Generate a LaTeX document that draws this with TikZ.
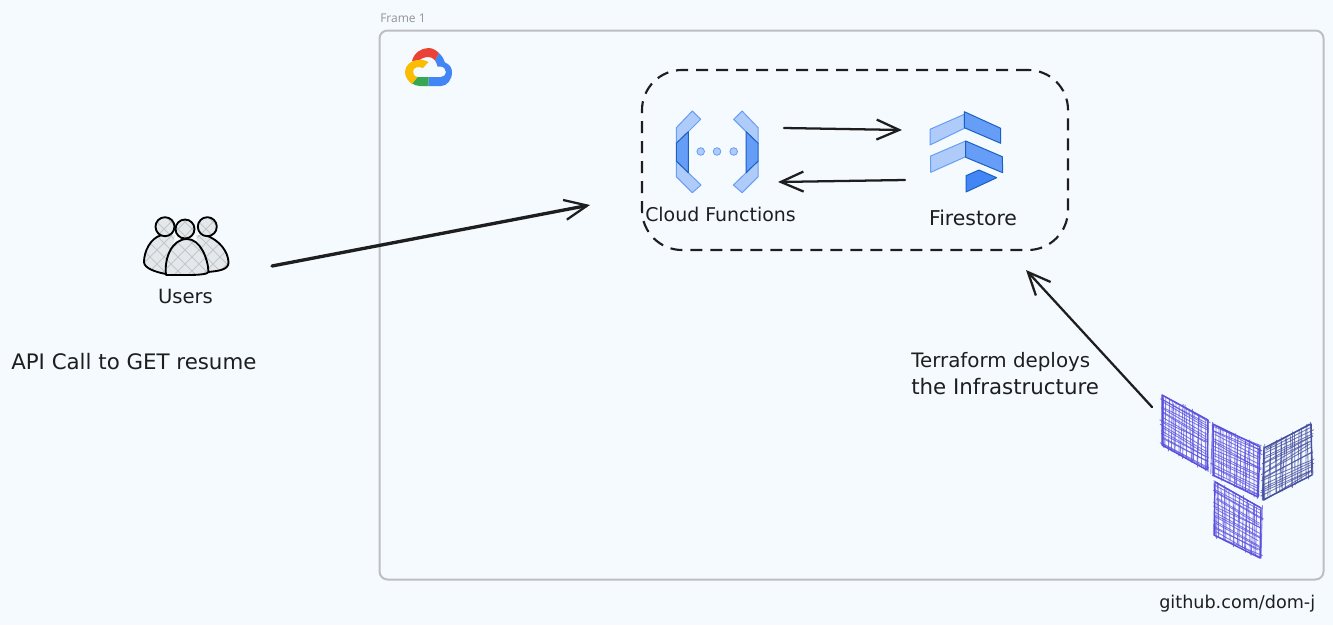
\documentclass[tikz,border=0pt]{standalone}
\usepackage{fontspec}
\setmainfont{DejaVu Sans}
\newfontfamily\framefont{Open Sans}
\usetikzlibrary{arrows.meta,calc}
\definecolor{bgc}{HTML}{F5FAFF}
\definecolor{ink}{HTML}{1E1E1E}
\definecolor{gline}{HTML}{BDBFC1}
\definecolor{lblue}{HTML}{AECBFA}
\definecolor{mblue}{HTML}{669DF6}
\definecolor{dblue}{HTML}{4285F4}
\definecolor{eblue}{HTML}{1A62C0}
\definecolor{tfv}{HTML}{5A50DC}
\definecolor{tfd}{HTML}{45509E}
\definecolor{gred}{HTML}{EA4335}
\definecolor{gyel}{HTML}{FBBC04}
\definecolor{ggrn}{HTML}{34A853}
\definecolor{gblu}{HTML}{4285F4}
\tikzset{
 flow/.style={draw=ink,line width=1.7pt,-{Straight Barb[length=17pt,width=15pt,line width=1.7pt]},line cap=round},
 hand/.style={text=ink,inner sep=0pt},
 lightpart/.style={fill=lblue,draw=mblue,line width=0.75pt,line join=round},
 darkpart/.style={fill=mblue,draw=eblue,line width=0.75pt,line join=round},
 person/.style={draw=black,line width=1.4pt,line join=round},
 tfline/.style={line width=0.65pt,line cap=round,opacity=0.75},
}
\newcommand{\hs}[1]{\fontsize{#1pt}{#1pt}\selectfont}
\newcommand{\hatchusers}{%
  \fill[bgc!85!gray] (130,205) rectangle (240,285);
  \foreach \k in {-100,-86,...,200}{
    \draw[gray!45,line width=0.6pt] (\k+100,205) -- ++(80,80);
    \draw[gray!45,line width=0.6pt] (\k+120,205) -- ++(-80,80);
  }%
}
\newcommand{\tfquad}[5]{% color, then four corners
  \coordinate (qa) at #2; \coordinate (qb) at #3; \coordinate (qc) at #4; \coordinate (qd) at #5;
  \foreach \t in {0,0.055,...,1.01}{
    \draw[tfline,#1] ($(qa)!\t!(qd)+({rand*2.5},{rand*2})$) -- ($(qb)!\t+rand*0.03!(qc)+({rand*2.5},{rand*2})$);
    \draw[tfline,#1] ($(qa)!\t!(qb)+({rand*2},{rand*2.5})$) -- ($(qd)!\t+rand*0.03!(qc)+({rand*2},{rand*2.5})$);
  }
  \draw[#1,line width=1.1pt,line join=round] (qa) -- (qb) -- (qc) -- (qd) -- cycle;
}
\begin{document}
\begin{tikzpicture}[x=0.75pt,y=-0.75pt]
\useasboundingbox (0,0) rectangle (1333,625);
\fill[bgc] (0,0) rectangle (1333,625);

% frame
\node[anchor=west,inner sep=0pt,text=gray!85,font=\framefont\fontsize{9pt}{11pt}\selectfont] (frametitle) at (380,18.5) {Frame 1};
\draw[gline,line width=1.5pt,rounded corners=6pt] (379.5,30.5) rectangle (1323.5,579.5);

% google cloud logo
\fill[gred] (412,61) .. controls (414,53) and (421,48) .. (428.5,48) .. controls (432,48) and (436,50) .. (439,53) -- (435,60.5) .. controls (433,58) and (431,57) .. (428.5,57) .. controls (424,57) and (420,59) .. (418,61.5) -- cycle;
\fill[gblu] (439,53) .. controls (442,56) and (444,59) .. (445,62.5) .. controls (449.5,64) and (452,68) .. (452,72) .. controls (452,80) and (447,86) .. (441,86) -- (428.5,86) -- (428.5,77) -- (441,77) .. controls (444,77) and (446,74.5) .. (446,72) .. controls (446,69) and (443.5,66.5) .. (440,66.5) -- (437.5,66.5) .. controls (437,64) and (436,62) .. (435,60.5) -- cycle;
\fill[ggrn] (417.5,77) -- (428.5,77) -- (428.5,86) -- (420,86) .. controls (417,86) and (414.5,85) .. (412,83.5) -- cycle;
\fill[gyel] (428.5,62) .. controls (425,60) and (421,59.5) .. (418,60) .. controls (410,60.5) and (405,66) .. (405,72) .. controls (405,77) and (408,81) .. (412,84) -- (417.5,77) .. controls (414,76) and (413,74) .. (413,71.5) .. controls (413,68) and (418,65.5) .. (423,68) -- cycle;

% dashed group
\node[draw=ink,line width=1.6pt,dash pattern=on 9pt off 6pt,rounded corners=30pt,minimum width=319.5pt,minimum height=135pt,inner sep=0pt] (group) at (855,160) {};

% cloud functions icon
\foreach \m/\o in {1/0,-1/1434.4}{
  \begin{scope}[xshift=\o*0.75pt,xscale=\m]
  \draw[lightpart] (692.3,111) -- (700.7,119.3) -- (688.3,131.7) -- (676.3,143.3) -- (676.3,127.7) -- cycle;
  \draw[lightpart] (676.3,161) -- (688.3,172.7) -- (701,185) -- (692.3,192.7) -- (676.3,176.7) -- cycle;
  \draw[darkpart] (688.3,131.7) -- (688.3,172.7) -- (676.3,161) -- (676.3,143.3) -- cycle;
  \end{scope}
}
\foreach \cx in {700.7,717,733.7}{
  \draw[fill=lblue,draw=mblue,line width=0.6pt] (\cx,151.5) circle (3.8);
}

% firestore icon
\draw[lightpart] (930,129.3) -- (964.3,114.3) -- (964.3,128.3) -- (930,145) -- cycle;
\draw[darkpart] (964.3,111.7) -- (1000.7,128.3) -- (1000.7,143.3) -- (964.3,127.7) -- cycle;
\draw[lightpart] (930.7,156) -- (965.7,141) -- (965.7,156.7) -- (930.7,172.3) -- cycle;
\draw[darkpart] (965.7,141) -- (1002.3,156.7) -- (1002.7,172.7) -- (965.7,157.3) -- cycle;
\draw[darkpart,fill=dblue] (966,175.7) -- (979,170) -- (996.7,177.7) -- (966,192) -- cycle;

% labels
\node[hand,font=\hs{14.2}] (cflabel) at (720.5,214) {Cloud Functions};
\node[hand,font=\hs{15.3}] (fslabel) at (973,218) {Firestore};
\node[hand,font=\hs{14.7}] (ulabel) at (185.5,296) {Users};
\node[hand,anchor=west,font=\hs{16}] (apilabel) at (11,362) {API Call to GET resume};
\node[hand,anchor=west,font=\hs{14.9}] (tf1) at (911,362) {Terraform deploys};
\node[hand,anchor=west,font=\hs{16}] (tf2) at (911,387) {the Infrastructure};
\node[hand,anchor=west,font=\hs{13.2}] (gh) at (1159,604) {github.com/dom-j};

% users icon
\begin{scope}
  \clip (161.7,235) .. controls (150,238) and (144,252) .. (144,262) .. controls (144,268) and (155,272) .. (168,274) -- (175,235) -- cycle;
  \hatchusers
\end{scope}
\begin{scope}
  \clip (205,235) .. controls (220,240) and (228,252) .. (228.5,262) .. controls (229,270) and (218,271) .. (206,272) -- (196,235) -- cycle;
  \hatchusers
\end{scope}
\draw[person] (161.7,235) .. controls (150,238) and (144,252) .. (144,262) .. controls (144,268) and (155,272) .. (166,274);
\draw[person] (205,235) .. controls (220,240) and (228,252) .. (228.5,262) .. controls (229,270) and (218,271) .. (208,272);
\foreach \hx/\hy in {165/226.7,207.3/226.7,185/229}{
  \begin{scope}
    \clip (\hx,\hy) circle (9.5);
    \hatchusers
  \end{scope}
  \draw[person] (\hx,\hy) circle (9.5);
}
\begin{scope}
  \clip (166,275) .. controls (164,258) and (172,239) .. (187,239) .. controls (200,239) and (208,258) .. (208.5,272) .. controls (208,274) and (200,275) .. (187,275) -- cycle;
  \hatchusers
\end{scope}
\draw[person] (166,275) .. controls (164,258) and (172,239) .. (187,239) .. controls (200,239) and (208,258) .. (208.5,272) .. controls (208,274) and (200,275) .. (187,275) -- cycle;

% terraform logo
\pgfmathsetseed{42}
\tfquad{tfv}{(1162,395)}{(1208,420)}{(1207,470)}{(1162,445)}
\tfquad{tfv}{(1213,424)}{(1260,447)}{(1258,497)}{(1213,475)}
\tfquad{tfd}{(1264,448)}{(1311,424)}{(1312,475)}{(1263,500)}
\tfquad{tfv}{(1215,482)}{(1261,508)}{(1260,558)}{(1214,535)}

% connectors
\coordinate (uout) at (272,266);
\coordinate (uin) at (590,205);
\coordinate (cfa) at (784,128);
\coordinate (fsa) at (902,130);
\coordinate (fsb) at (905,180);
\coordinate (cfb) at (778,182);
\coordinate (tfout) at (1152,407);
\coordinate (grp) at (1026,270);
\draw[flow,line width=2.5pt] (uout) -- (uin);
\draw[flow] (cfa) -- (fsa);
\draw[flow] (fsb) -- (cfb);
\draw[flow] (tfout) -- (grp);
\end{tikzpicture}
\end{document}
